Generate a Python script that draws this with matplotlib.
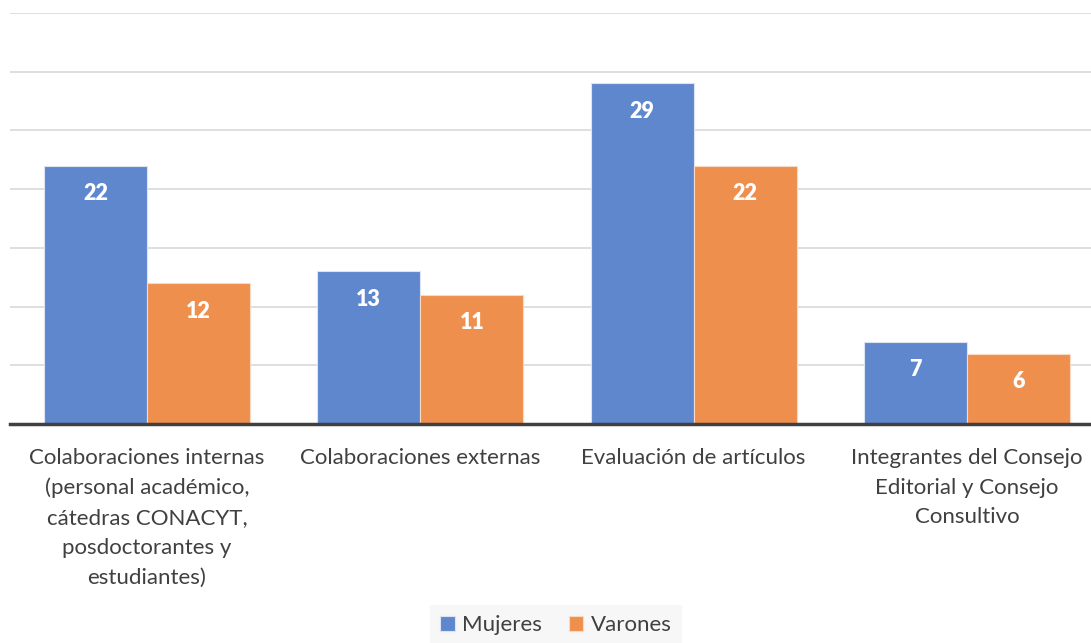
import matplotlib
matplotlib.use("Agg")
import matplotlib.pyplot as plt
import numpy as np

categories = [
    "Colaboraciones internas\n(personal académico,\ncátedras CONACYT,\nposdoctorantes y\nestudiantes)",
    "Colaboraciones externas",
    "Evaluación de artículos",
    "Integrantes del Consejo\nEditorial y Consejo\nConsultivo",
]
mujeres = [22, 13, 29, 7]
varones = [12, 11, 22, 6]
series_names = ["Mujeres", "Varones"]

blue = "#5F87CD"
orange = "#EF8F4E"

plt.rcParams['font.family'] = ['Lato', 'DejaVu Sans']

fig = plt.figure(figsize=(10.91, 6.43), dpi=100)
ax = fig.add_axes([10/1091, (643-424)/643, 1081/1091, (424-13)/643])

x = np.arange(len(categories))
w = 0.377
b1 = ax.bar(x - w/2, mujeres, w, color=blue, edgecolor="#dce4f2", linewidth=0.8, label=series_names[0], zorder=3)
b2 = ax.bar(x + w/2, varones, w, color=orange, edgecolor="#f8d9c4", linewidth=0.8, label=series_names[1], zorder=3)

for bars, vals in ((b1, mujeres), (b2, varones)):
    for r, v in zip(bars, vals):
        ax.annotate(str(v), (r.get_x() + r.get_width()/2, v), xytext=(0, -28),
                    textcoords="offset pixels",
                    ha="center", va="center", color="white", fontsize=15.5, fontweight="heavy", zorder=4)

ax.set_xlim(-0.501, 3.454)
ax.set_ylim(0, 35)
ax.set_yticks(np.arange(5, 36, 5))
ax.yaxis.grid(True, color="#d9d9d9", linewidth=1.2, zorder=0)
ax.tick_params(axis="y", left=False, labelleft=False)
ax.set_xticks(x)
ax.set_xticklabels(categories, fontsize=16, color="#404040", linespacing=1.62, va="top")
ax.tick_params(axis="x", length=0, pad=17)
for s in ["top", "right", "left"]:
    ax.spines[s].set_visible(False)
ax.spines["bottom"].set_color("#404040")
ax.spines["bottom"].set_linewidth(2.5)
ax.spines["bottom"].set_zorder(5)

leg = fig.legend(handles=[b1, b2], labels=series_names, loc="center", bbox_to_anchor=(556/1091, 1 - 625/643),
                 ncol=2, frameon=True, fontsize=16, handlelength=0.65, handleheight=0.65,
                 columnspacing=1.2, handletextpad=0.35, borderpad=0.45)
leg.get_frame().set_facecolor("#f5f5f5")
leg.get_frame().set_edgecolor("none")
leg.get_frame().set_boxstyle("square", pad=0.0)
for t in leg.get_texts():
    t.set_color("#404040")

fig.savefig("out.png", dpi=100)
